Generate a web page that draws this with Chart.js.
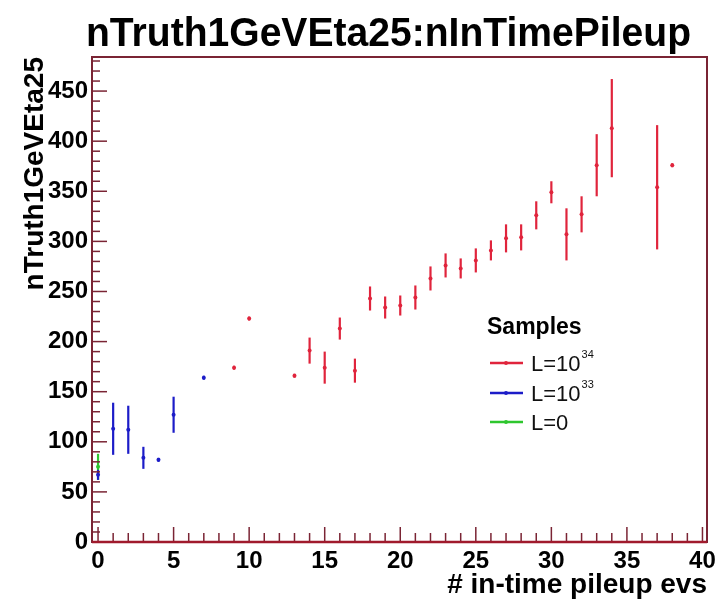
<!DOCTYPE html>
<html>
<head>
<meta charset="utf-8">
<script src="https://cdn.jsdelivr.net/npm/chart.js@4.4.1/dist/chart.umd.min.js"></script>
<style>
  html, body { margin: 0; padding: 0; background: #fff; }
  #wrap { width: 723px; height: 605px; }
</style>
</head>
<body>
<div id="wrap"><canvas id="c" width="723" height="605"></canvas></div>
<script>
// data
const pileupRed = [9, 10, 13, 14, 15, 16, 17, 18, 19, 20, 21, 22, 23, 24, 25, 26, 27, 28, 29, 30, 31, 32, 33, 34, 37, 38];
const valuesRed = [174, 223, 166, 191, 174, 213, 171, 243, 234, 236, 244, 263, 276, 273, 281, 291, 303, 304, 326, 349, 307, 327, 376, 413, 354, 376];
const errorsRed = [2, 2, 2, 13, 16, 11, 12, 12, 11, 10, 12, 12, 12, 10, 12, 10, 14, 13, 14, 11, 26, 18, 31, 49, 62, 2];

const pileupBlue = [0, 1, 2, 3, 4, 5, 7];
const valuesBlue = [67, 113, 112, 84, 82, 127, 164];
const errorsBlue = [5, 26, 24, 11, 2, 18, 2];

const pileupGreen = [0];
const valuesGreen = [75];
const errorsGreen = [13];

const xTicks = [0, 5, 10, 15, 20, 25, 30, 35, 40];
const yTicks = [0, 50, 100, 150, 200, 250, 300, 350, 400, 450];

const seriesLabels = ['L=10', 'L=10', 'L=0'];
const seriesSup = ['34', '33', ''];

const RED = '#e0243c', BLUE = '#1c1cc8', GREEN = '#2ec62e';
const FRAME = '#7a2434';
const FONT = '"Liberation Sans", Arial, sans-serif';

function toPoints(xs, ys) {
  return xs.map((x, i) => ({ x: x, y: ys[i] }));
}

const errorsBySet = [errorsRed, errorsBlue, errorsGreen];

// vertical error bars, drawn through the scales
const errorBars = {
  id: 'errorBars',
  beforeDatasetsDraw(chart) {
    const ctx = chart.ctx;
    const ys = chart.scales.y;
    ctx.save();
    for (let di = chart.data.datasets.length - 1; di >= 0; di--) {
      const ds = chart.data.datasets[di];
      const meta = chart.getDatasetMeta(di);
      ctx.strokeStyle = ds.borderColor;
      ctx.lineWidth = 2.2;
      meta.data.forEach((pt, i) => {
        const v = ds.data[i].y, e = errorsBySet[di][i];
        ctx.beginPath();
        ctx.moveTo(pt.x, ys.getPixelForValue(v - e));
        ctx.lineTo(pt.x, ys.getPixelForValue(v + e));
        ctx.stroke();
      });
    }
    ctx.restore();
  }
};

// frame, inward ticks, title and legend
const decor = {
  id: 'decor',
  afterDraw(chart) {
    const ctx = chart.ctx;
    const a = chart.chartArea;
    const xs = chart.scales.x, ys = chart.scales.y;
    ctx.save();

    // ticks
    ctx.strokeStyle = FRAME;
    ctx.lineWidth = 1.5;
    for (let v = 0; v <= 40; v += 1) {
      const px = xs.getPixelForValue(v);
      const len = v % 5 === 0 ? 15 : 9;
      ctx.beginPath();
      ctx.moveTo(px, a.bottom);
      ctx.lineTo(px, a.bottom - len);
      ctx.stroke();
    }
    for (let v = 0; v <= 480; v += 10) {
      const py = ys.getPixelForValue(v);
      if (py < a.top) break;
      const len = v % 50 === 0 ? 15 : 8;
      ctx.beginPath();
      ctx.moveTo(a.left, py);
      ctx.lineTo(a.left + len, py);
      ctx.stroke();
    }

    // frame
    ctx.lineWidth = 2;
    ctx.strokeStyle = FRAME;
    ctx.strokeRect(a.left, a.top, a.right - a.left, a.bottom - a.top);
    ctx.strokeStyle = '#a01a2c';
    ctx.lineWidth = 2.5;
    ctx.beginPath();
    ctx.moveTo(a.left, a.bottom);
    ctx.lineTo(a.right, a.bottom);
    ctx.stroke();

    // title, condensed to the reference width
    const title = 'nTruth1GeVEta25:nInTimePileup';
    ctx.fillStyle = '#000';
    ctx.font = 'bold 40px ' + FONT;
    ctx.textBaseline = 'alphabetic';
    ctx.textAlign = 'left';
    const w = ctx.measureText(title).width;
    ctx.save();
    ctx.translate(86, 46);
    ctx.scale(605 / w, 1);
    ctx.fillText(title, 0, 0);
    ctx.restore();

    // legend
    ctx.font = 'bold 23px ' + FONT;
    ctx.textBaseline = 'middle';
    ctx.fillText('Samples', 487, 328);
    const rowsY = [363, 393, 422];
    chart.data.datasets.forEach((ds, i) => {
      const y = rowsY[i];
      ctx.strokeStyle = ds.borderColor;
      ctx.lineWidth = 2.5;
      ctx.beginPath();
      ctx.moveTo(490, y);
      ctx.lineTo(523, y);
      ctx.stroke();
      ctx.fillStyle = ds.borderColor;
      ctx.beginPath();
      ctx.arc(506, y, 2, 0, Math.PI * 2);
      ctx.fill();
      ctx.fillStyle = '#111';
      ctx.font = '22px ' + FONT;
      ctx.fillText(seriesLabels[i], 531, y + 2);
      if (seriesSup[i]) {
        const lw = ctx.measureText(seriesLabels[i]).width;
        ctx.font = '11px ' + FONT;
        ctx.fillText(seriesSup[i], 531 + lw + 1, y - 8);
      }
    });
    ctx.restore();
  }
};

new Chart(document.getElementById('c'), {
  type: 'scatter',
  data: {
    datasets: [
      { label: 'L=10^34', data: toPoints(pileupRed, valuesRed), borderColor: RED, backgroundColor: RED },
      { label: 'L=10^33', data: toPoints(pileupBlue, valuesBlue), borderColor: BLUE, backgroundColor: BLUE },
      { label: 'L=0', data: toPoints(pileupGreen, valuesGreen), borderColor: GREEN, backgroundColor: GREEN }
    ]
  },
  options: {
    responsive: false,
    animation: false,
    events: [],
    elements: { point: { radius: 2, borderWidth: 0 } },
    layout: { padding: { left: 0, right: 16, top: 57, bottom: 0 } },
    plugins: { legend: { display: false }, tooltip: { enabled: false }, title: { display: false } },
    scales: {
      x: {
        type: 'linear',
        min: -0.4,
        max: 40.3,
        afterBuildTicks: s => { s.ticks = xTicks.map(v => ({ value: v })); },
        afterFit: s => { s.height = 63; },
        grid: { display: false, drawTicks: false },
        border: { display: false },
        ticks: {
          color: '#000',
          padding: 5,
          maxRotation: 0,
          font: { family: FONT, size: 24, weight: 'bold' }
        },
        title: {
          display: true,
          text: '# in-time pileup evs',
          align: 'end',
          color: '#000',
          padding: { top: 0, bottom: 3 },
          font: { family: FONT, size: 28, weight: 'bold' }
        }
      },
      y: {
        type: 'linear',
        min: 0,
        max: 484,
        afterBuildTicks: s => { s.ticks = yTicks.map(v => ({ value: v })); },
        afterFit: s => { s.width = 92; },
        grid: { display: false, drawTicks: false },
        border: { display: false },
        ticks: {
          color: '#000',
          padding: 4,
          font: { family: FONT, size: 24, weight: 'bold' }
        },
        title: {
          display: true,
          text: 'nTruth1GeVEta25',
          align: 'end',
          color: '#000',
          padding: { top: 18, bottom: 0 },
          font: { family: FONT, size: 28, weight: 'bold' }
        }
      }
    }
  },
  plugins: [errorBars, decor]
});
</script>
</body>
</html>
